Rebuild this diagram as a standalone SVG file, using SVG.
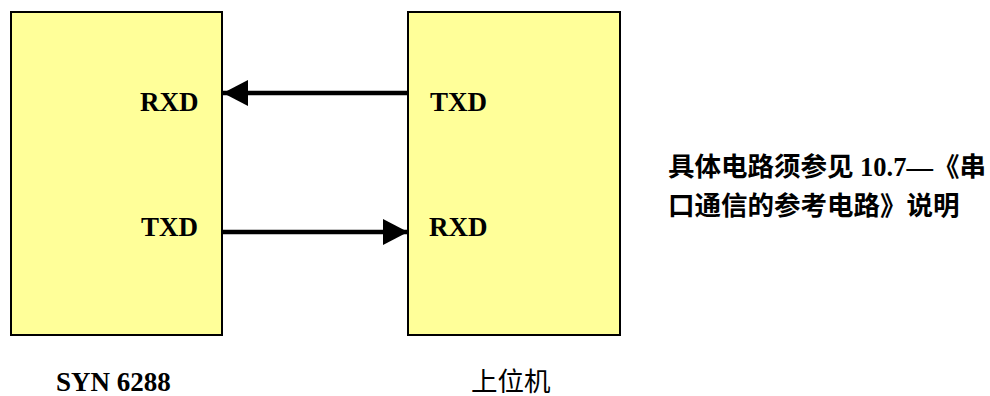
<svg xmlns="http://www.w3.org/2000/svg" width="990" height="396" viewBox="0 0 990 396">
<style>
.box{fill:#FFFF99;stroke:#000;stroke-width:2}
.pin{font-family:"Liberation Serif","Noto Sans CJK SC",serif;font-weight:bold;font-size:27px;fill:#000}
.cap{font-family:"Liberation Serif","Noto Sans CJK SC",serif;font-size:26.5px;fill:#000}
.note{font-family:"Liberation Serif","Noto Sans CJK SC",serif;font-weight:bold;font-size:26.5px;fill:#000}
.wire{stroke:#000;stroke-width:4.5;fill:none}
</style>
<defs>
<marker id="ah" markerUnits="userSpaceOnUse" markerWidth="26" markerHeight="26" viewBox="0 0 26 26" refX="25" refY="13" orient="auto">
<path d="M0,0 L25,13 L0,26 Z" fill="#000"/>
</marker>
</defs>
<rect width="990" height="396" fill="#fff"/>
<g id="syn6288">
<rect class="box" x="11" y="12" width="211" height="323"/>
<text class="pin" x="140" y="111">RXD</text>
<text class="pin" x="141" y="236">TXD</text>
<text class="pin" x="56" y="391">SYN 6288</text>
</g>
<g id="host">
<rect class="box" x="408" y="12" width="212" height="323"/>
<text class="pin" x="430" y="111">TXD</text>
<text class="pin" x="429" y="236">RXD</text>
<text class="cap" x="471" y="391">上位机</text>
</g>
<g id="connectors">
<line class="wire" x1="408" y1="93" x2="223" y2="93" marker-end="url(#ah)"/>
<line class="wire" x1="222" y1="232" x2="408" y2="232" marker-end="url(#ah)"/>
</g>
<g id="note">
<text class="note" x="668" y="176">具体电路须参见 10.7—《串</text>
<text class="note" x="668" y="215">口通信的参考电路》说明</text>
</g>
</svg>
